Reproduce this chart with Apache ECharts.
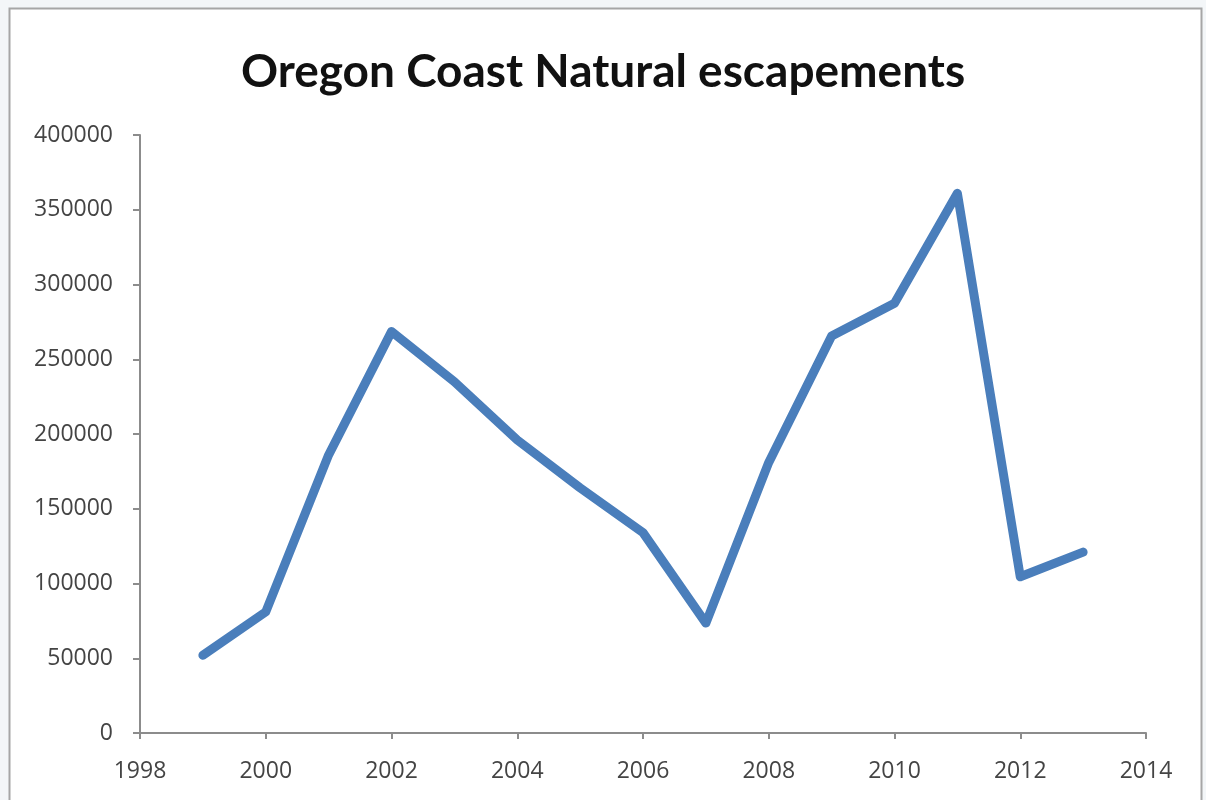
<!DOCTYPE html>
<html>
<head>
<meta charset="utf-8">
<script src="https://cdn.jsdelivr.net/npm/echarts@6/dist/echarts.min.js"></script>
<style>
html,body{margin:0;padding:0;background:#f3f6f8;}
#chart{width:1206px;height:800px;}
</style>
</head>
<body>
<div id="chart"></div>
<script>
const titleText = "Oregon Coast Natural escapements";
const years = [1999, 2000, 2001, 2002, 2003, 2004, 2005, 2006, 2007, 2008, 2009, 2010, 2011, 2012, 2013];
const escapements = [52000, 81000, 186000, 268500, 235000, 196000, 164000, 134000, 73500, 181000, 265500, 287500, 361000, 104500, 121000];
const xTicks = [1998, 2000, 2002, 2004, 2006, 2008, 2010, 2012, 2014];
const yTicks = [0, 50000, 100000, 150000, 200000, 250000, 300000, 350000, 400000];

const chart = echarts.init(document.getElementById('chart'));
chart.setOption({
  backgroundColor: '#f3f6f8',
  animation: false,
  graphic: [{
    type: 'rect',
    shape: {x: 9.5, y: 8.5, width: 1192, height: 800},
    style: {fill: '#ffffff', stroke: '#a6a6a6', lineWidth: 2},
    z: -10
  }],
  title: {
    text: titleText,
    left: 'center',
    top: 44,
    textStyle: {fontFamily: 'Lato', fontWeight: 'bold', fontSize: 46, color: '#111'}
  },
  grid: {left: 140, right: 60, top: 135, bottom: 67, containLabel: false},
  xAxis: {
    type: 'value',
    min: xTicks[0],
    max: xTicks[xTicks.length - 1],
    interval: 2,
    axisLine: {lineStyle: {color: '#8c8c8c', width: 2}},
    axisTick: {show: true, length: 6, lineStyle: {color: '#8c8c8c', width: 2}},
    splitLine: {show: false},
    axisLabel: {color: '#444', fontSize: 23, fontFamily: 'Open Sans', margin: 27, formatter: v => String(v)}
  },
  yAxis: {
    type: 'value',
    min: yTicks[0],
    max: yTicks[yTicks.length - 1],
    interval: 50000,
    axisLine: {show: true, lineStyle: {color: '#8c8c8c', width: 2}},
    axisTick: {show: true, length: 7, lineStyle: {color: '#8c8c8c', width: 2}},
    splitLine: {show: false},
    axisLabel: {color: '#444', fontSize: 23, fontFamily: 'Open Sans', margin: 27, formatter: v => String(v)}
  },
  series: [{
    type: 'line',
    data: years.map((y, i) => [y, escapements[i]]),
    symbol: 'none',
    lineStyle: {color: '#4a7ebb', width: 9, cap: 'round', join: 'round'},
    z: 5
  }]
});
</script>
</body>
</html>
